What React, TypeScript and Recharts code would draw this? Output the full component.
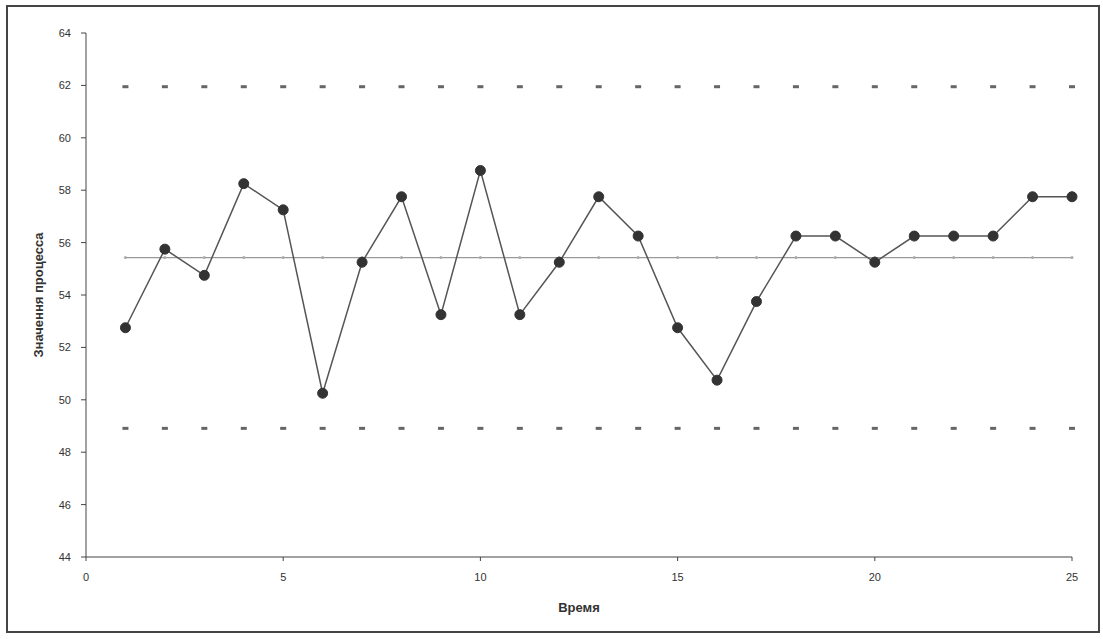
import React from "react";
import {
  ComposedChart,
  Line,
  XAxis,
  YAxis,
} from "recharts";

const times = [
  1, 2, 3, 4, 5, 6, 7, 8, 9, 10, 11, 12, 13, 14, 15, 16, 17, 18, 19, 20, 21,
  22, 23, 24, 25,
];
const processValues = [
  52.75, 55.75, 54.75, 58.25, 57.25, 50.25, 55.25, 57.75, 53.25, 58.75, 53.25,
  55.25, 57.75, 56.25, 52.75, 50.75, 53.75, 56.25, 56.25, 55.25, 56.25, 56.25,
  56.25, 57.75, 57.75,
];
const centerValue = 55.43;
const upperLimit = 61.95;
const lowerLimit = 48.91;

const xTicks = [0, 5, 10, 15, 20, 25];
const yTicks = [44, 46, 48, 50, 52, 54, 56, 58, 60, 62, 64];

const data = times.map((t, i) => ({
  t,
  value: processValues[i],
  center: centerValue,
  ucl: upperLimit,
  lcl: lowerLimit,
}));

// small dash marker used for the control limits
const DashMark = (props: any) => {
  const { cx, cy } = props;
  if (cx == null || cy == null) return null;
  return <rect x={cx - 3} y={cy - 1.5} width={6} height={3} fill="#666" />;
};

const font = "Liberation Sans, Arial, sans-serif";
const tickStyle = { fontSize: 11, fill: "#333", fontFamily: font };
const labelStyle = { fontSize: 13, fontWeight: "bold", fill: "#333", fontFamily: font };

export default function App() {
  return (
    <div style={{ position: "absolute", left: 0, top: 0, width: 1103, height: 639, background: "#fff" }}>
      <div
        style={{
          position: "absolute",
          left: 6,
          top: 5,
          width: 1090,
          height: 624,
          border: "2px solid #444",
        }}
      />
      <div style={{ position: "absolute", left: 0, top: 0 }}>
        <ComposedChart
          width={1103}
          height={639}
          data={data}
          margin={{ top: 33, right: 31, left: 26, bottom: 52 }}
        >
          <XAxis
            dataKey="t"
            type="number"
            domain={[0, 25]}
            ticks={xTicks}
            height={30}
            tick={tickStyle}
            tickSize={4}
            tickMargin={12}
            stroke="#444"
            label={{ value: "Время", position: "center", dy: 35, style: labelStyle }}
          />
          <YAxis
            type="number"
            domain={[44, 64]}
            ticks={yTicks}
            width={60}
            tick={tickStyle}
            tickSize={5}
            tickMargin={10}
            stroke="#444"
            label={{
              value: "Значення процесса",
              angle: -90,
              position: "center",
              dx: -18,
              style: labelStyle,
            }}
          />
          <Line
            dataKey="ucl"
            stroke="none"
            dot={<DashMark />}
            activeDot={false}
            isAnimationActive={false}
          />
          <Line
            dataKey="lcl"
            stroke="none"
            dot={<DashMark />}
            activeDot={false}
            isAnimationActive={false}
          />
          <Line
            dataKey="center"
            stroke="#999"
            strokeWidth={1.2}
            dot={{ r: 1.5, fill: "#aaa", stroke: "none" }}
            activeDot={false}
            isAnimationActive={false}
          />
          <Line
            dataKey="value"
            stroke="#555"
            strokeWidth={1.5}
            dot={{ r: 5, fill: "#333", stroke: "#333", strokeWidth: 1 }}
            activeDot={false}
            isAnimationActive={false}
          />
        </ComposedChart>
      </div>
    </div>
  );
}
